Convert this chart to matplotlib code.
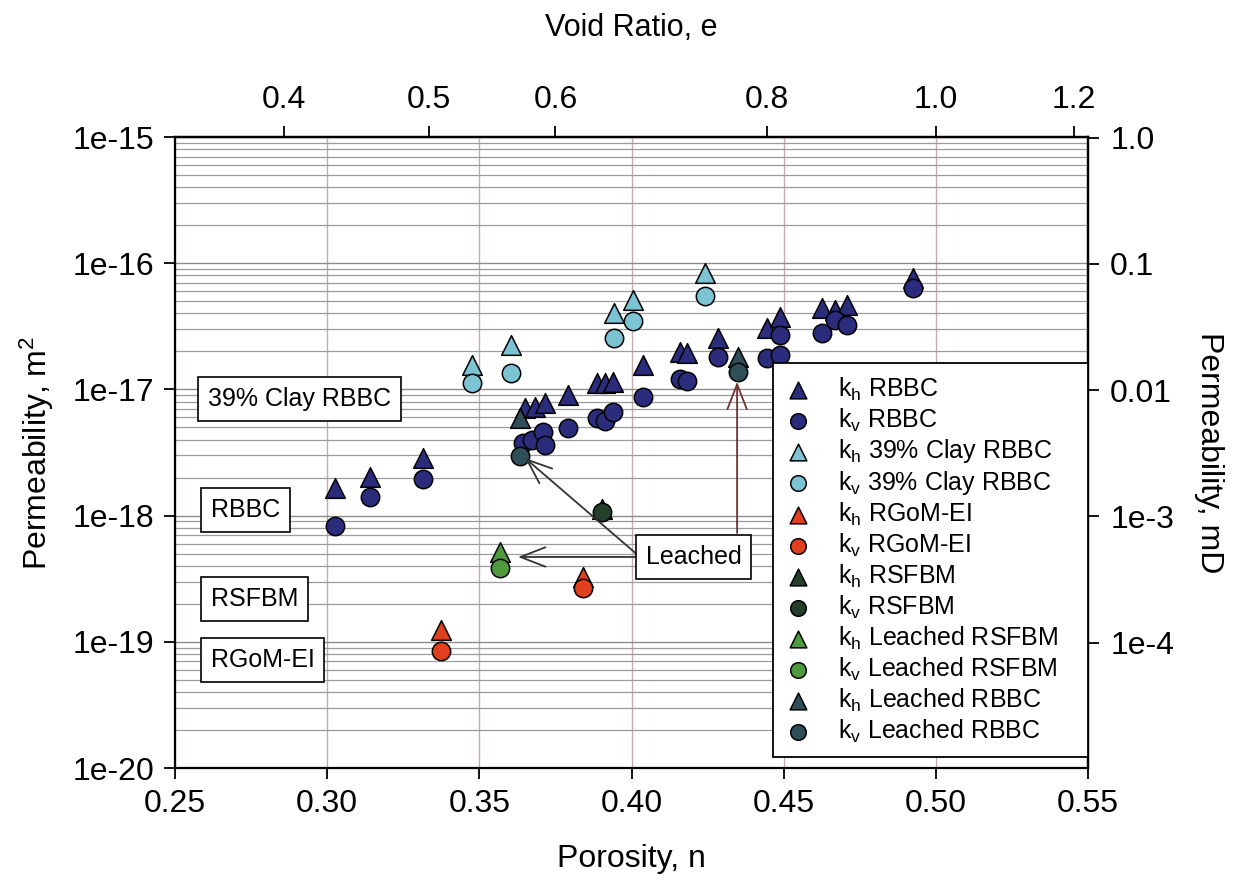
import matplotlib
matplotlib.use("Agg")
import matplotlib.pyplot as plt
from matplotlib.ticker import LogLocator, NullLocator, FixedLocator

plt.rcParams["font.family"] = "Liberation Sans"
plt.rcParams["mathtext.fontset"] = "custom"
plt.rcParams["mathtext.rm"] = "Liberation Sans"
plt.rcParams["mathtext.default"] = "regular"

# ---- data (porosity n, permeability k in m^2) ----
rbbc_kh_n = [0.3026, 0.3141, 0.3316, 0.3650, 0.3683, 0.3716, 0.3791, 0.3886, 0.3913,
             0.3939, 0.4038, 0.4160, 0.4182, 0.4284, 0.4445, 0.4488, 0.4626, 0.4669,
             0.4708, 0.4925]
rbbc_kh_k = [1.66e-18, 2.03e-18, 2.84e-18, 7.13e-18, 7.26e-18, 7.80e-18, 9.03e-18,
             1.12e-17, 1.12e-17, 1.15e-17, 1.56e-17, 1.98e-17, 1.94e-17, 2.55e-17,
             3.07e-17, 3.75e-17, 4.42e-17, 4.26e-17, 4.67e-17, 7.63e-17]
rbbc_kv_n = [0.3026, 0.3141, 0.3316, 0.3643, 0.3672, 0.3709, 0.3716, 0.3791, 0.3886,
             0.3913, 0.3939, 0.4038, 0.4160, 0.4182, 0.4284, 0.4445, 0.4488, 0.4488,
             0.4626, 0.4669, 0.4708, 0.4925]
rbbc_kv_k = [8.32e-19, 1.40e-18, 1.94e-18, 3.76e-18, 3.97e-18, 4.60e-18, 3.63e-18,
             4.94e-18, 5.93e-18, 5.62e-18, 6.62e-18, 8.71e-18, 1.21e-17, 1.17e-17,
             1.79e-17, 1.77e-17, 1.87e-17, 2.70e-17, 2.80e-17, 3.55e-17, 3.24e-17,
             6.36e-17]

clay_kh_n = [0.3475, 0.3603, 0.3943, 0.4006, 0.4242]
clay_kh_k = [1.56e-17, 2.25e-17, 4.01e-17, 5.11e-17, 8.32e-17]
clay_kv_n = [0.3475, 0.3603, 0.3943, 0.4006, 0.4242]
clay_kv_k = [1.13e-17, 1.36e-17, 2.54e-17, 3.50e-17, 5.50e-17]

rgom_kh_n = [0.3373, 0.3842]
rgom_kh_k = [1.24e-19, 3.28e-19]
rgom_kv_n = [0.3373, 0.3842]
rgom_kv_k = [8.51e-20, 2.65e-19]

rsfbm_kh_n = [0.3902]
rsfbm_kh_k = [1.12e-18]
rsfbm_kv_n = [0.3902]
rsfbm_kv_k = [1.07e-18]

lrsfbm_kh_n = [0.3568]
lrsfbm_kh_k = [5.18e-19]
lrsfbm_kv_n = [0.3568]
lrsfbm_kv_k = [3.82e-19]

lrbbc_kh_n = [0.3634, 0.4350]
lrbbc_kh_k = [5.93e-18, 1.81e-17]
lrbbc_kv_n = [0.3634, 0.4350]
lrbbc_kv_k = [2.97e-18, 1.37e-17]

MD = 9.869e-16  # m^2 in 1 mD

fig = plt.figure(figsize=(12.38, 8.8), dpi=100)
ax = fig.add_axes([175 / 1238, 1 - 768 / 880, 913 / 1238, 631 / 880])
ax.set_yscale("log")
ax.set_xlim(0.25, 0.55)
ax.set_ylim(1e-20, 1e-15)

# grid
ax.yaxis.set_minor_locator(LogLocator(base=10, subs=range(2, 10)))
ax.grid(True, which="major", axis="y", color="#8c8c8c", lw=1.0, zorder=0)
ax.grid(True, which="minor", axis="y", color="#9c9c9c", lw=0.9, zorder=0)
ax.grid(True, which="major", axis="x", color="#c9a9a9", lw=1.0, zorder=0)
ax.set_axisbelow(True)

navy = "#2c2c7c"
light = "#7cc3d3"
red = "#e0401e"
dgreen = "#243f2c"
green = "#4f9a3c"
teal = "#2f4e58"

st = dict(edgecolors="black", linewidths=1.1, zorder=3)
sT, sC = 200, 175
ax.scatter(rbbc_kh_n, rbbc_kh_k, marker="^", s=sT, c=navy, label="k$_h$ RBBC", **st)
ax.scatter(rbbc_kv_n, rbbc_kv_k, marker="o", s=sC, c=navy, label="k$_v$ RBBC", **st)
ax.scatter(clay_kh_n, clay_kh_k, marker="^", s=sT, c=light, label="k$_h$ 39% Clay RBBC", **st)
ax.scatter(clay_kv_n, clay_kv_k, marker="o", s=sC, c=light, label="k$_v$ 39% Clay RBBC", **st)
ax.scatter(rgom_kh_n, rgom_kh_k, marker="^", s=sT, c=red, label="k$_h$ RGoM-EI", **st)
ax.scatter(rgom_kv_n, rgom_kv_k, marker="o", s=sC, c=red, label="k$_v$ RGoM-EI", **st)
ax.scatter(rsfbm_kh_n, rsfbm_kh_k, marker="^", s=sT, c=dgreen, label="k$_h$ RSFBM", **st)
ax.scatter(rsfbm_kv_n, rsfbm_kv_k, marker="o", s=sC, c=dgreen, label="k$_v$ RSFBM", **st)
ax.scatter(lrsfbm_kh_n, lrsfbm_kh_k, marker="^", s=sT, c=green, label="k$_h$ Leached RSFBM", **st)
ax.scatter(lrsfbm_kv_n, lrsfbm_kv_k, marker="o", s=sC, c=green, label="k$_v$ Leached RSFBM", **st)
ax.scatter(lrbbc_kh_n, lrbbc_kh_k, marker="^", s=sT, c=teal, label="k$_h$ Leached RBBC", **st)
ax.scatter(lrbbc_kv_n, lrbbc_kv_k, marker="o", s=sC, c=teal, label="k$_v$ Leached RBBC", **st)

# axes ticks / labels
xt = [0.25, 0.30, 0.35, 0.40, 0.45, 0.50, 0.55]
ax.set_xticks(xt)
ax.set_xticklabels([f"{v:.2f}" for v in xt])
yt = [1e-20, 1e-19, 1e-18, 1e-17, 1e-16, 1e-15]
ax.set_yticks(yt)
ax.set_yticklabels(["1e-20", "1e-19", "1e-18", "1e-17", "1e-16", "1e-15"])
ax.tick_params(axis="both", which="major", direction="out", length=8, width=1.3,
               labelsize=23, pad=7)
ax.tick_params(axis="y", which="minor", length=0)
ax.set_xlabel("Porosity, n", fontsize=23, labelpad=18)
ax.set_ylabel("Permeability, m$^2$", fontsize=23, labelpad=12)
for sp in ax.spines.values():
    sp.set_linewidth(1.6)

# top axis: void ratio
top = ax.secondary_xaxis("top", functions=(lambda n: n / (1 - n), lambda e: e / (1 + e)))
top.xaxis.set_major_locator(FixedLocator([0.4, 0.5, 0.6, 0.8, 1.0, 1.2]))
top.set_xticklabels(["0.4", "0.5", "0.6", "0.8", "1.0", "1.2"])
top.xaxis.set_minor_locator(NullLocator())
top.tick_params(direction="out", length=8, width=1.3, labelsize=23, pad=8)
top.set_xlabel("Void Ratio, e", fontsize=22, labelpad=35)
top.spines["top"].set_linewidth(1.6)

# right axis: mD
right = ax.secondary_yaxis("right", functions=(lambda k: k / MD, lambda m: m * MD))
right.yaxis.set_major_locator(FixedLocator([1e-4, 1e-3, 1e-2, 1e-1, 1.0]))
right.set_yticklabels(["1e-4", "1e-3", "0.01", "0.1", "1.0"])
right.yaxis.set_minor_locator(NullLocator())
right.tick_params(direction="out", length=8, width=1.3, labelsize=23, pad=8)
right.set_ylabel("Permeability, mD", fontsize=23, rotation=270, labelpad=36)
right.spines["right"].set_linewidth(1.6)

# text boxes
box = dict(boxstyle="square,pad=0.4", fc="white", ec="black", lw=1.2)
ax.text(0.036, 0.584, "39% Clay RBBC", transform=ax.transAxes, fontsize=18,
        ha="left", va="center", bbox=box, zorder=4)
ax.text(0.039, 0.409, "RBBC", transform=ax.transAxes, fontsize=18,
        ha="left", va="center", bbox=box, zorder=4)
ax.text(0.039, 0.268, "RSFBM", transform=ax.transAxes, fontsize=18,
        ha="left", va="center", bbox=box, zorder=4)
ax.text(0.039, 0.171, "RGoM-EI", transform=ax.transAxes, fontsize=18,
        ha="left", va="center", bbox=box, zorder=4)

# leached arrows
arr = dict(arrowstyle="->,head_length=0.9,head_width=0.35", color="#333333", lw=1.3,
           mutation_scale=20, shrinkA=0, shrinkB=0)
ax.annotate("", xy=(0.3627, 4.70e-19), xytext=(0.4028, 4.70e-19), arrowprops=arr, zorder=4)
ax.annotate("", xy=(0.3650, 2.86e-18), xytext=(0.4028, 4.70e-19), arrowprops=arr, zorder=4)
arr2 = dict(arr, color="#6e3434")
ax.annotate("", xy=(0.4347, 1.15e-17), xytext=(0.4347, 7.28e-19), arrowprops=arr2, zorder=4)
ax.text(0.4204, 4.70e-19, "Leached", fontsize=18, ha="center", va="center",
        bbox=dict(boxstyle="square,pad=0.4", fc="white", ec="black", lw=1.2), zorder=5)

leg = ax.legend(loc="upper left", bbox_to_anchor=(0.655, 0.0, 0.345, 0.642),
                mode="expand", fontsize=18, frameon=True, fancybox=False,
                edgecolor="black", framealpha=1, labelspacing=0.15,
                handlelength=1.0, handletextpad=1.1, borderpad=0.5,
                scatterpoints=1, markerscale=0.85, borderaxespad=0)
leg.get_frame().set_linewidth(1.3)
leg.set_zorder(10)

fig.savefig("out.png", dpi=100)
